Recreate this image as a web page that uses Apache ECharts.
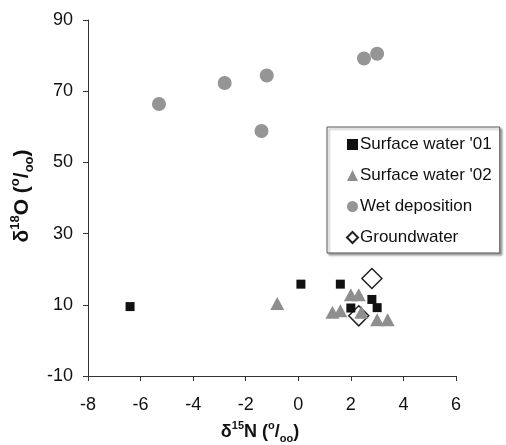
<!DOCTYPE html>
<html>
<head>
<meta charset="utf-8">
<script src="https://cdn.jsdelivr.net/npm/echarts@6/dist/echarts.min.js"></script>
<style>
  html, body { margin: 0; padding: 0; background: #fff; }
  #chart { width: 506px; height: 445px; }
</style>
</head>
<body>
<div id="chart"></div>
<script>
// d15N / d18O pairs
var surface01 = [[-6.4, 9.5], [0.1, 15.8], [1.6, 15.8], [2.0, 9.1], [2.8, 11.5], [3.0, 9.2]];
var surface02 = [[-0.8, 10.4], [1.3, 7.9], [1.6, 8.3], [2.0, 12.8], [2.3, 12.8], [2.4, 7.9], [3.0, 5.8], [3.4, 5.8]];
var wetDeposition = [[-5.3, 66.4], [-2.8, 72.3], [-1.2, 74.4], [-1.4, 58.8], [2.5, 79.2], [3.0, 80.5]];
var groundwater = [[2.8, 17.4], [2.3, 6.9]];
var seriesNames = ["Surface water '01", "Surface water '02", 'Wet deposition', 'Groundwater'];

var chart = echarts.init(document.getElementById('chart'));

var font = 'Liberation Sans, Arial, sans-serif';
function titleRich(size) {
  var small = Math.round(size * 0.62);
  return {
    b: { fontSize: size, fontWeight: 'bold', fontFamily: font, color: '#111', lineHeight: size + 6, verticalAlign: 'middle' },
    sup: { fontSize: small, fontWeight: 'bold', fontFamily: font, color: '#111', verticalAlign: 'top', lineHeight: size + 6 },
    sub: { fontSize: small, fontWeight: 'bold', fontFamily: font, color: '#111', verticalAlign: 'bottom', lineHeight: size + 6 }
  };
}

var option = {
  backgroundColor: '#ffffff',
  animation: false,
  grid: { left: 88, right: 50, top: 20, bottom: 69, outerBoundsMode: 'none', containLabel: false },
  legend: {
    orient: 'vertical',
    left: 327,
    top: 127,
    data: seriesNames,
    itemWidth: 11,
    itemHeight: 11,
    itemGap: 14,
    padding: [9, 8, 7, 19],
    borderColor: '#555',
    borderWidth: 1,
    backgroundColor: '#fff',
    shadowColor: 'rgba(0,0,0,0.35)',
    shadowOffsetX: 2,
    shadowOffsetY: 2,
    shadowBlur: 2,
    textStyle: { fontSize: 17, fontFamily: font, color: '#111', padding: [0, 0, 0, -3] }
  },
  xAxis: {
    type: 'value',
    min: -8,
    max: 6,
    interval: 2,
    name: '{b|δ}{sup|15}{b|N (}{sup|o}{b|/}{sub|oo}{b|)}',
    nameLocation: 'middle',
    nameGap: 44,
    nameTextStyle: { rich: titleRich(18), padding: [0, 24, 0, 0] },
    axisLine: { show: true, onZero: false, lineStyle: { color: '#333', width: 1 } },
    axisTick: { show: true, inside: false, length: 5, lineStyle: { color: '#333' } },
    axisLabel: { fontSize: 18, fontFamily: font, color: '#111', margin: 20 },
    splitLine: { show: false }
  },
  yAxis: {
    type: 'value',
    min: -10,
    max: 90,
    interval: 20,
    name: '{b|δ}{sup|18}{b|O (}{sup|o}{b|/}{sub|oo}{b|)}',
    nameLocation: 'middle',
    nameRotate: 90,
    nameGap: 49,
    nameTextStyle: { rich: titleRich(21), padding: [0, 0, 0, 4] },
    axisLine: { show: true, onZero: false, lineStyle: { color: '#333', width: 1 } },
    axisTick: { show: true, inside: false, length: 5, lineStyle: { color: '#333' } },
    axisLabel: { fontSize: 18, fontFamily: font, color: '#111', margin: 15 },
    splitLine: { show: false }
  },
  series: [
    {
      name: seriesNames[0],
      type: 'scatter',
      symbol: 'rect',
      symbolSize: 9,
      z: 4,
      itemStyle: { color: '#111', opacity: 1 },
      data: surface01
    },
    {
      name: seriesNames[1],
      type: 'scatter',
      symbol: 'triangle',
      symbolSize: [14, 13],
      z: 3,
      itemStyle: { color: '#8e8e8e', opacity: 1 },
      data: surface02
    },
    {
      name: seriesNames[2],
      type: 'scatter',
      symbol: 'circle',
      symbolSize: 14,
      itemStyle: { color: '#959595', opacity: 1 },
      data: wetDeposition
    },
    {
      name: seriesNames[3],
      type: 'scatter',
      symbol: 'diamond',
      symbolSize: 20,
      z: 2,
      itemStyle: { color: 'rgba(255,255,255,0)', borderColor: '#222', borderWidth: 1.5, opacity: 1 },
      data: groundwater
    }
  ]
};

chart.setOption(option);
</script>
</body>
</html>
